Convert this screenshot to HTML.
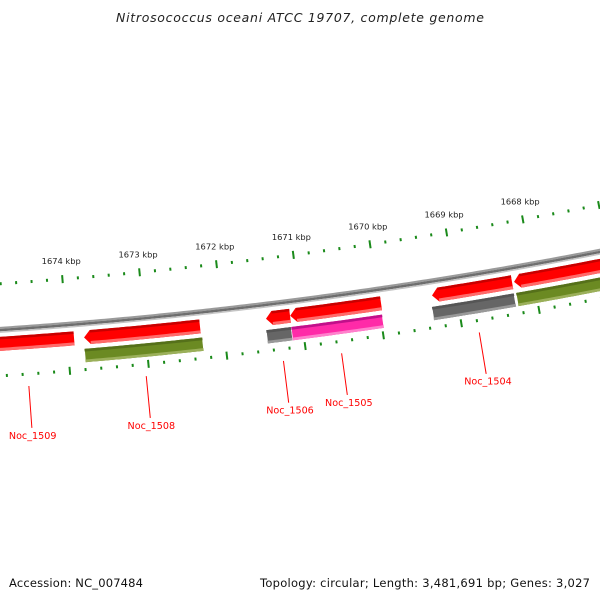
<!DOCTYPE html>
<html><head><meta charset="utf-8"><style>
html,body{margin:0;padding:0;background:#fff;}
svg{display:block;font-family:"DejaVu Sans","Liberation Sans",sans-serif;}
</style></head><body>
<svg id="map" width="600" height="600" viewBox="0 0 600 600">
<text x="300" y="22" text-anchor="middle" font-size="12.5" font-style="italic" fill="#222" textLength="368">Nitrosococcus oceani ATCC 19707, complete genome</text>
<text x="9" y="587" font-size="11.5" fill="#111" textLength="134">Accession: NC_007484</text>
<text x="590" y="587" text-anchor="end" font-size="11.5" fill="#111" textLength="330">Topology: circular; Length: 3,481,691 bp; Genes: 3,027</text>
<g id="layer"></g>
</svg>
<script>
// ---- data ----
const geneNames = ["Noc_1509","Noc_1508","Noc_1506","Noc_1505","Noc_1504","Noc_1503"];
const cdsStart  = [1675.15, 1673.785, 1671.451, 1671.14, 1669.312, 1668.251]; // high kbp (arrow tip)
const cdsEnd    = [1673.913, 1672.299, 1671.142, 1669.970, 1668.277, 1666.0];
const geneStart = [null, 1673.792, 1671.466, 1671.146, 1669.336, 1668.25];
const geneEnd   = [null, 1672.285, 1671.146, 1669.978, 1668.279, 1666.0];
const geneKind  = ["none","green","gray","pink","gray","green"];
const showLabel = [true,true,true,true,true,false];
const tickFrom = 1676, tickTo = 1666, tickStep = 0.2;
const majorLabels = [1674,1673,1672,1671,1670,1669,1668];

// ---- geometry ----
const CX=-320, CY=-4469.5, R=4810, A0=0.14535, K=0.016247;
function P(k,r){const a=A0+(1670-k)*K;return [CX+r*Math.sin(a), CY+r*Math.cos(a)];}
const NS="http://www.w3.org/2000/svg";
const layer=document.getElementById('layer');
function mk(tag,attrs){const e=document.createElementNS(NS,tag);for(const k in attrs)e.setAttribute(k,attrs[k]);layer.appendChild(e);return e;}
function arcPts(k1,k2,r){const pts=[];const n=Math.max(2,Math.ceil(Math.abs(k1-k2)*20));for(let i=0;i<=n;i++){pts.push(P(k1+(k2-k1)*i/n,r));}return pts;}
function band(k1,k2,r1,r2){return arcPts(k1,k2,r1).concat(arcPts(k2,k1,r2));}
function ptsStr(p){return p.map(q=>q[0].toFixed(2)+","+q[1].toFixed(2)).join(" ");}

// backbone
let bb;
bb=mk('polygon',{points:ptsStr(band(1676,1665,R-3,R-1)),fill:'#9a9a9a'});


bb=mk('polygon',{points:ptsStr(band(1676,1665,R-1,R+1.5)),fill:'#6e6e6e'});


bb=mk('polygon',{points:ptsStr(band(1676,1665,R+1.5,R+3)),fill:'#c4c4c4'});



// ticks
const nT=Math.round((tickFrom-tickTo)/tickStep);
for(let i=0;i<=nT;i++){
  const k=tickFrom-i*tickStep;
  const major=Math.abs(k-Math.round(k))<1e-6;
  [[R-46,'outer'],[R+46,'inner']].forEach(([rc,side])=>{
    const h=major?4:1.5;
    const a=P(k,rc-h),b=P(k,rc+h);
    const t=mk('line',{x1:a[0],y1:a[1],x2:b[0],y2:b[1],stroke:'#1a8a1a','stroke-width':2});
    
    
  });
}
majorLabels.forEach(k=>{
  const p=P(k,R-61);
  const t=mk('text',{x:p[0],y:p[1],'text-anchor':'middle','font-size':'8.3',fill:'#222'});
  t.textContent=k+" kbp";
  
  
});

// genes
const colors={green:['#55701a','#6b8a22','#9bb05a'],gray:['#555','#666','#999'],pink:['#c0108a','#ff2aa8','#ff80cc']};
for(let i=0;i<geneNames.length;i++){
  const r1=R+7,r2=R+21,h=0.08,s=cdsStart[i],e=cdsEnd[i];
  const tip=P(s,(r1+r2)/2);
  const poly=[tip].concat(arcPts(s-h,e,r1)).concat(arcPts(e,s-h,r2));
  const g=mk('polygon',{points:ptsStr(poly),fill:'#ff0000'});
  
  
  const d=mk('polygon',{points:ptsStr(band(s-h,e,r1,r1+2.5)),fill:'#c80000'});
  
  
  const l=mk('polygon',{points:ptsStr(band(s-h,e,r2-3,r2)),fill:'#ff6a6a'});
  
  
  if(geneStart[i]!==null){
    const c=colors[geneKind[i]];
    const q1=R+25,q2=R+39;
    const b=mk('polygon',{points:ptsStr(band(geneStart[i],geneEnd[i],q1,q2)),fill:c[1],stroke:'#fff','stroke-width':0.6});
    
    
    const bt=mk('polygon',{points:ptsStr(band(geneStart[i],geneEnd[i],q1+0.3,q1+3)),fill:c[0]});
    
    
    const bl=mk('polygon',{points:ptsStr(band(geneStart[i],geneEnd[i],q2-3,q2-0.3)),fill:c[2]});
    
    
  }
  if(showLabel[i]){
    const mid=(s+e)/2;
    const a=P(mid,R+58),b=P(mid,R+100),t=P(mid,R+111);
    const ln=mk('line',{x1:a[0],y1:a[1],x2:b[0],y2:b[1],stroke:'#ff0000','stroke-width':1});
    
    
    const tx=mk('text',{x:t[0],y:t[1],'text-anchor':'middle','font-size':'9.6',fill:'#ff0000'});
    tx.textContent=geneNames[i];
    
    
  }
}
</script>
</body></html>
